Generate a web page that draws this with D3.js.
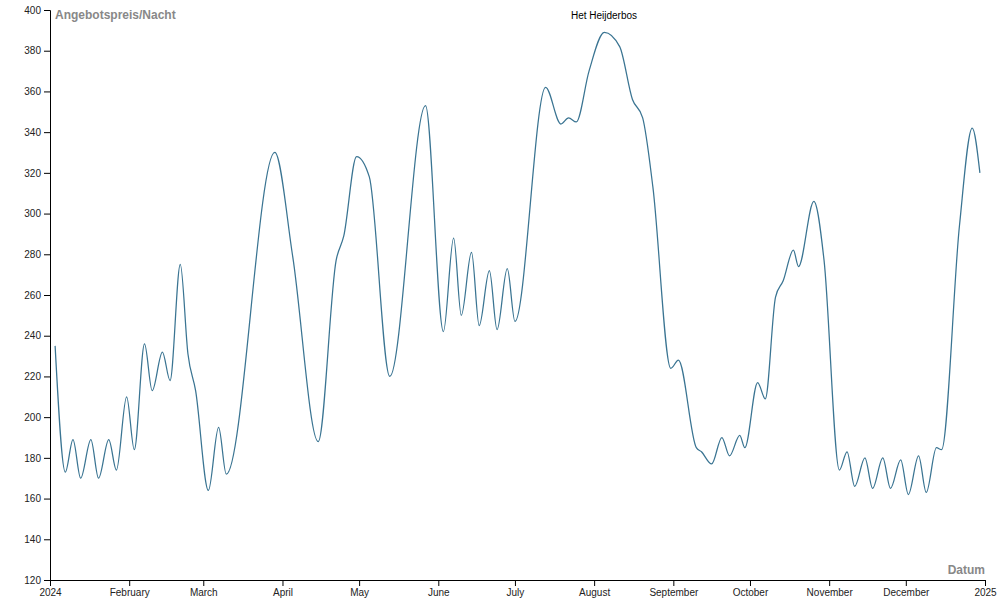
<!DOCTYPE html>
<html>
<head>
<meta charset="utf-8">
<script src="https://d3js.org/d3.v7.min.js"></script>
<style>
  body { margin: 0; background: #fff; }
  svg { font-family: "Liberation Sans", Arial, sans-serif; }
</style>
</head>
<body>
<div id="chart"></div>
<script>
// Angebotspreis pro Nacht
const dates = [
  "2024-01-03", "2024-01-07", "2024-01-10", "2024-01-13", "2024-01-17", "2024-01-20",
  "2024-01-24", "2024-01-27", "2024-01-31", "2024-02-03", "2024-02-07", "2024-02-10",
  "2024-02-14", "2024-02-17", "2024-02-21", "2024-02-24", "2024-02-27", "2024-03-03",
  "2024-03-07", "2024-03-10", "2024-03-29", "2024-04-05", "2024-04-15", "2024-04-22",
  "2024-04-25", "2024-04-30", "2024-05-05", "2024-05-13", "2024-05-27", "2024-06-03",
  "2024-06-07", "2024-06-10", "2024-06-14", "2024-06-17", "2024-06-21", "2024-06-24",
  "2024-06-28", "2024-07-01", "2024-07-13", "2024-07-19", "2024-07-22", "2024-07-25",
  "2024-07-30", "2024-08-05", "2024-08-11", "2024-08-16", "2024-08-20", "2024-08-24",
  "2024-08-31", "2024-09-03", "2024-09-10", "2024-09-12", "2024-09-16", "2024-09-20",
  "2024-09-23", "2024-09-27", "2024-09-29", "2024-10-04", "2024-10-07", "2024-10-11",
  "2024-10-14", "2024-10-18", "2024-10-20", "2024-10-26", "2024-10-30", "2024-11-05",
  "2024-11-08", "2024-11-11", "2024-11-15", "2024-11-18", "2024-11-22", "2024-11-25",
  "2024-11-29", "2024-12-02", "2024-12-06", "2024-12-09", "2024-12-13", "2024-12-15",
  "2024-12-22", "2024-12-27", "2024-12-30"
];
const prices = [
  235, 173, 189, 170, 189, 170,
  189, 174, 210, 184, 236, 213,
  232, 218, 275, 231, 213, 164,
  195, 172, 330, 279, 188, 277,
  289, 328, 318, 220, 353, 242,
  288, 250, 281, 245, 272, 243,
  273, 247, 362, 344, 347, 345,
  370, 389, 382, 356, 347, 313,
  224, 228, 185, 183, 177, 190,
  181, 191, 185, 217, 209, 259,
  267, 282, 274, 306, 277, 174,
  183, 166, 180, 165, 180, 165,
  179, 162, 181, 163, 185, 184,
  294, 342, 320
];
const yTicks = [120, 140, 160, 180, 200, 220, 240, 260, 280, 300, 320, 340, 360, 380, 400];

const title = "Het Heijderbos";
const xLabel = "Datum";
const yLabel = "Angebotspreis/Nacht";

const width = 1000;
const height = 600;
const margin = { top: 10, right: 15, bottom: 20, left: 50 };

const parse = d3.timeParse("%Y-%m-%d");
const data = dates.map((d, i) => ({ date: parse(d), price: prices[i] }));

const svg = d3.select("#chart").append("svg")
  .attr("width", width)
  .attr("height", height);

const x = d3.scaleTime()
  .domain([new Date(2024, 0, 1), new Date(2025, 0, 1)])
  .range([margin.left, width - margin.right]);

const y = d3.scaleLinear()
  .domain([120, 400])
  .range([height - margin.bottom, margin.top]);

const xAxis = d3.axisBottom(x).ticks(d3.timeMonth.every(1));
const yAxis = d3.axisLeft(y).tickValues(yTicks);

svg.append("g")
  .attr("transform", `translate(0,${height - margin.bottom})`)
  .call(xAxis)
  .call(g => g.selectAll("text").attr("fill", "#222"));

svg.append("g")
  .attr("transform", `translate(${margin.left},0)`)
  .call(yAxis)
  .call(g => g.selectAll("text").attr("fill", "#222"));

const line = d3.line()
  .x(d => x(d.date))
  .y(d => y(d.price))
  .curve(d3.curveMonotoneX);

svg.append("path")
  .datum(data)
  .attr("fill", "none")
  .attr("stroke", "#3a7492")
  .attr("stroke-width", 1.25)
  .attr("d", line);

// Titel
svg.append("text")
  .attr("x", 604)
  .attr("y", 19)
  .attr("text-anchor", "middle")
  .attr("font-size", "10px")
  .attr("fill", "#000")
  .text(title);

// Achsenbeschriftungen
svg.append("text")
  .attr("x", margin.left + 5)
  .attr("y", margin.top + 9)
  .attr("font-size", "12px")
  .attr("font-weight", "bold")
  .attr("fill", "#888")
  .text(yLabel);

svg.append("text")
  .attr("x", width - margin.right)
  .attr("y", height - margin.bottom - 6)
  .attr("text-anchor", "end")
  .attr("font-size", "12px")
  .attr("font-weight", "bold")
  .attr("fill", "#888")
  .text(xLabel);
</script>
</body>
</html>
